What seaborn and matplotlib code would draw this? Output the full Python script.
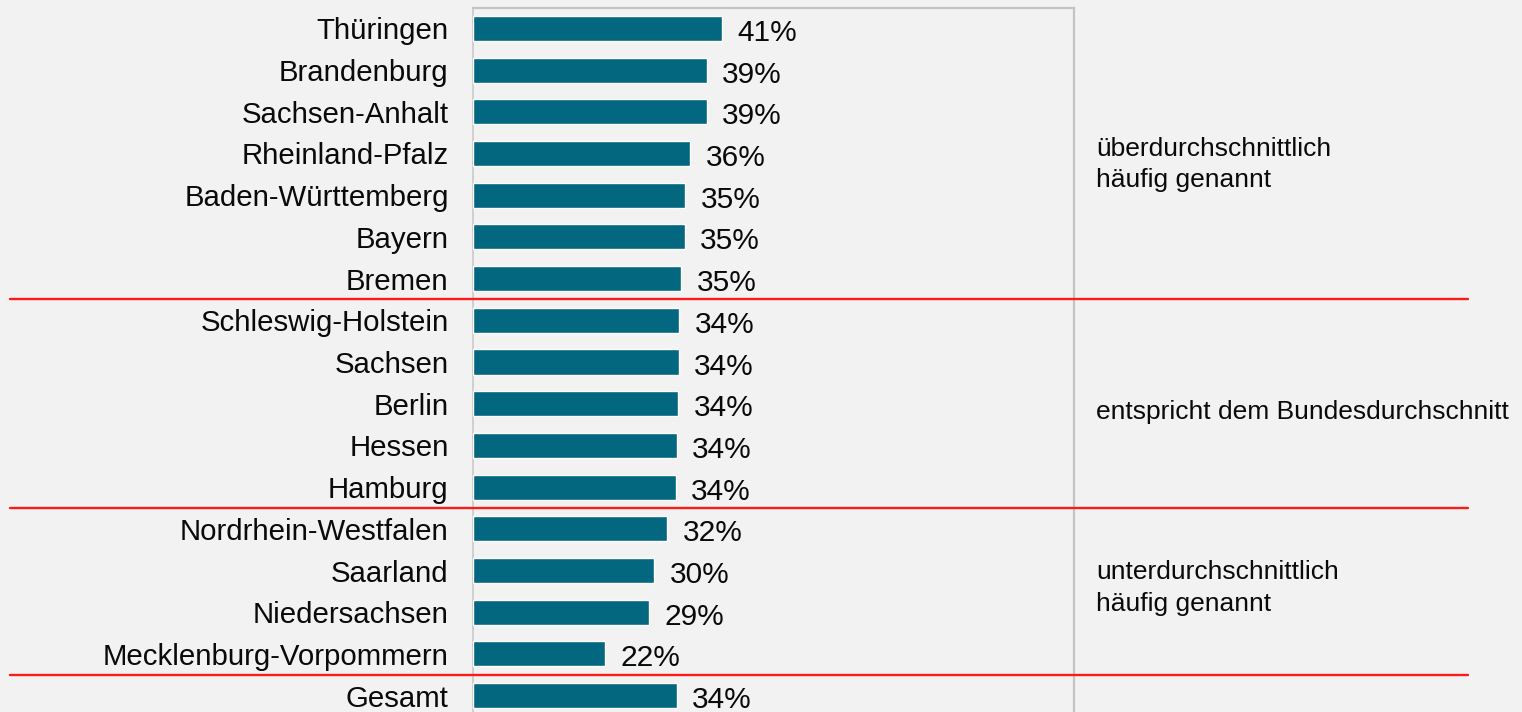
import matplotlib
matplotlib.use("Agg")
import matplotlib.pyplot as plt
import matplotlib.transforms as mtransforms
import seaborn as sns
import pandas as pd

# Share of respondents by federal state (percent)
regions = [
    "Thüringen", "Brandenburg", "Sachsen-Anhalt", "Rheinland-Pfalz",
    "Baden-Württemberg", "Bayern", "Bremen", "Schleswig-Holstein",
    "Sachsen", "Berlin", "Hessen", "Hamburg", "Nordrhein-Westfalen",
    "Saarland", "Niedersachsen", "Mecklenburg-Vorpommern", "Gesamt",
]
values = [
    41.4, 38.9, 38.9, 36.1, 35.3, 35.2, 34.6, 34.3, 34.2, 34.1,
    33.9, 33.7, 32.3, 30.1, 29.3, 21.9, 33.9,
]

# Group separators (between rows) and group descriptions
separators = [6.5, 11.5, 15.5]
group_texts = [
    "überdurchschnittlich\nhäufig genannt",
    "entspricht dem Bundesdurchschnitt",
    "unterdurchschnittlich\nhäufig genannt",
]
group_positions = [3.26, 9.2, 13.42]

BG = "#f2f2f2"
BAR = "#02677f"
TXT = "#0a0a0a"

sns.set_theme(style="white")
plt.rcParams["font.family"] = ["Liberation Sans", "DejaVu Sans"]

df = pd.DataFrame({"region": regions, "value": values})

fig = plt.figure(figsize=(15.22, 7.12), dpi=100, facecolor=BG)
ax = fig.add_axes([473 / 1522, 1 - 716.5 / 712, 601 / 1522, 709 / 712])
ax.set_facecolor(BG)

sns.barplot(data=df, x="value", y="region", color=BAR, saturation=1,
            width=0.6, ax=ax, zorder=3)

ax.set_xlim(0, 100)
ax.set_ylim(16.5, -0.5)
ax.set_xlabel("")
ax.set_ylabel("")
ax.set_xticks([])
ax.tick_params(axis="y", length=0, pad=17.5, labelsize=21.2, labelcolor=TXT)

for side in ["top", "right"]:
    ax.spines[side].set_color("#c4c4c4")
    ax.spines[side].set_linewidth(1.6)
ax.spines["left"].set_color("#d0d0d0")
ax.spines["left"].set_linewidth(1.4)
ax.spines["bottom"].set_visible(False)

# Value labels to the right of each bar
for bar, v in zip(ax.containers[0], values):
    yc = bar.get_y() + bar.get_height() / 2
    ax.annotate(f"{v:.0f}%", xy=(bar.get_width(), yc), xytext=(15.5, -1.5),
                textcoords="offset pixels", ha="left", va="center_baseline",
                fontsize=21.5, color=TXT)

# Red separators spanning nearly the full figure width
trans = mtransforms.blended_transform_factory(fig.transFigure, ax.transData)
for y in separators:
    ax.plot([10 / 1522, 1468 / 1522], [y, y], transform=trans, color="#ff1a1a",
            lw=1.7, clip_on=False, zorder=5)

for txt, y in zip(group_texts, group_positions):
    ax.text(1096 / 1522, y, txt, transform=trans, ha="left", va="center",
            fontsize=19, color=TXT, linespacing=1.38)

fig.savefig("out.png", dpi=100, facecolor=BG)
